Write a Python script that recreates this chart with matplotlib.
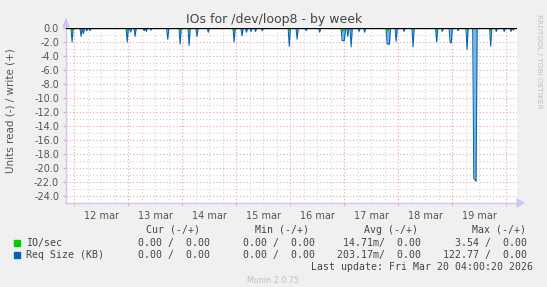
import numpy as np
import matplotlib
matplotlib.use("Agg")
import matplotlib.pyplot as plt
from matplotlib.patches import Polygon, Rectangle

W, H = 547, 287

# ---- data (hours since 12 mar 00:00) ----
title = "IOs for /dev/loop8 - by week"
ylabel = "Units read (-) / write (+)"
day_labels = ["12 mar", "13 mar", "14 mar", "15 mar", "16 mar", "17 mar", "18 mar", "19 mar"]
read_hours = [-1.0, 3.0, 4.0, 5.5, 7.0, 23.5, 25.0, 27.0, 31.0, 32.0, 34.0, 41.5,
              47.0, 51.0, 54.5, 59.5, 71.0, 74.5, 76.5, 78.5, 80.5, 83.5,
              95.5, 99.0, 103.0, 109.0, 119.0, 119.5, 120.0, 121.5, 123.0, 126.5, 129.0,
              139.0, 139.5, 140.0, 143.0, 146.5, 150.5, 161.0, 163.5, 167.0, 167.5,
              170.5, 174.5, 177.5, 178.0, 178.5, 185.0, 187.5, 191.0, 194.0, 195.0]
reqsize_read = [-2.0, -1.2, -0.8, -0.4, -0.4, -2.0, -0.6, -1.2, -0.4, -0.5, -0.3, -1.6,
                -2.3, -2.5, -1.2, -0.6, -2.0, -1.1, -0.6, -0.5, -0.5, -0.4,
                -2.6, -1.6, -0.4, -0.6, -1.8, -1.8, -1.8, -1.2, -2.7, -0.5, -0.6,
                -2.3, -2.3, -2.3, -1.9, -0.5, -2.7, -2.0, -0.5, -2.1, -2.1,
                -0.4, -3.1, -21.5, -21.7, -21.9, -2.6, -0.5, -0.5, -0.5, -0.3]
iosec_read = [-0.4, 0, 0, 0, 0, -0.4, 0, 0, 0, 0, 0, 0,
              -0.4, -0.3, 0, 0, -0.4, 0, 0, 0, 0, 0,
              -0.4, 0, 0, 0, -0.5, -0.3, 0, 0, 0, 0, 0,
              -0.5, -0.3, 0, 0, 0, -0.3, -0.4, 0, 0, 0,
              0, -0.3, 0, 0, 0, -0.4, 0, 0, 0, 0]

# legend table
legend_names = ["IO/sec", "Req Size (KB)"]
legend_colors = ["#00cc00", "#0066b3"]
cur_vals = ["0.00 /  0.00", "0.00 /  0.00"]
min_vals = ["0.00 /  0.00", "0.00 /  0.00"]
avg_vals = ["14.71m/  0.00", "203.17m/  0.00"]
max_vals = ["3.54 /  0.00", "122.77 /  0.00"]
last_update = "Last update: Fri Mar 20 04:00:20 2026"

# ---- build series on the 30-min grid ----
t = np.arange(-4.0, 197.5, 0.5)
req = np.zeros_like(t)
ios = np.zeros_like(t)
for h, r, g in zip(read_hours, reqsize_read, iosec_read):
    i = int(round((h - t[0]) / 0.5))
    req[i] = r
    ios[i] = g

fig = plt.figure(figsize=(W / 100, H / 100), dpi=100, facecolor="#f0f0f0")
L, R, T, B = 66, 517, 28, 203
ax = fig.add_axes([L / W, 1 - B / H, (R - L) / W, (B - T) / H])
ax.set_facecolor("white")
ax.set_xlim(-3.7, 196.7)
ax.set_ylim(-25, 0)

# grids
for yv in np.arange(-25, 0, 1.0):
    if yv % 2 == 0:
        ax.axhline(yv, color="#f0a0a0", lw=0.8, ls=(0, (1, 2)), zorder=1)
    else:
        ax.axhline(yv, color="#d4d4d4", lw=0.8, ls=(0, (1, 2)), zorder=1)
for xv in np.arange(-6, 198, 6):
    if xv % 24 == 0:
        ax.axvline(xv, color="#f0a0a0", lw=0.8, ls=(0, (1, 2)), zorder=1)
    else:
        ax.axvline(xv, color="#d4d4d4", lw=0.8, ls=(0, (1, 2)), zorder=1)

# series
ax.fill_between(t, req, 0, color="#80b4e0", lw=0, zorder=2)
ax.plot(t, req, color="#0066b3", lw=0.75, zorder=3)
ax.plot(t, ios, color="#00cc00", lw=0.9, zorder=4)
ax.axhline(0, color="black", lw=1.0, zorder=5)

# axes styling
for s in ["top", "right"]:
    ax.spines[s].set_visible(False)
for s in ["left", "bottom"]:
    ax.spines[s].set_color("#c8c8f0")
    ax.spines[s].set_linewidth(1.0)
ax.set_yticks(np.arange(-24, 1, 2))
ax.set_yticklabels([f"{v:.1f}" for v in np.arange(-24, 1, 2)])
ax.set_xticks([12 + 24 * k for k in range(len(day_labels))])
ax.set_xticklabels(day_labels)
ax.set_xticks(np.arange(0, 197, 24), minor=True)
ax.tick_params(axis="y", length=2, color="#f0a0a0", labelsize=7, labelcolor="#555555", pad=3)
ax.tick_params(axis="x", which="major", length=0, labelsize=7, labelcolor="#555555", pad=6)
ax.tick_params(axis="x", which="minor", length=2, color="#f0a0a0")

# arrows
fig.patches.append(Polygon([[(L - 3) / W, 1 - 27 / H], [(L + 3) / W, 1 - 27 / H], [L / W, 1 - 19 / H]],
                           closed=True, transform=fig.transFigure, color="#c8c8f5"))
fig.patches.append(Polygon([[R / W, 1 - (B - 4) / H], [R / W, 1 - (B + 4) / H], [(R + 7) / W, 1 - B / H]],
                           closed=True, transform=fig.transFigure, color="#c8c8f5"))

def fx(x):
    return x / W

def fy(y):
    return 1 - y / H

fig.text(fx(274), fy(19), title, ha="center", va="center", fontsize=9, color="#444444")
fig.text(fx(11), fy(111), ylabel, ha="center", va="center", rotation=90, fontsize=7.5, color="#555555")
fig.text(fx(539), fy(14), "RRDTOOL / TOBI OETIKER", ha="center", va="top", rotation=270,
         fontsize=5.3, color="#c0c0c0")

mono = "DejaVu Sans Mono"
fs = 7.15
lc = "#444444"
hy = 230
for txt, xr in [("Cur (-/+)", 200), ("Min (-/+)", 309), ("Avg (-/+)", 418), ("Max (-/+)", 526)]:
    fig.text(fx(xr), fy(hy), txt, ha="right", va="center", family=mono, fontsize=fs, color=lc)
rows_y = [243, 255]
for i in range(2):
    y = rows_y[i]
    fig.patches.append(Rectangle((fx(14), fy(y + 3)), 6 / W, 6 / H, transform=fig.transFigure,
                                 color=legend_colors[i]))
    fig.text(fx(26), fy(y), legend_names[i], ha="left", va="center", family=mono, fontsize=fs, color=lc)
    fig.text(fx(209.5), fy(y), cur_vals[i], ha="right", va="center", family=mono, fontsize=fs, color=lc)
    fig.text(fx(315), fy(y), min_vals[i], ha="right", va="center", family=mono, fontsize=fs, color=lc)
    fig.text(fx(421), fy(y), avg_vals[i], ha="right", va="center", family=mono, fontsize=fs, color=lc)
    fig.text(fx(527), fy(y), max_vals[i], ha="right", va="center", family=mono, fontsize=fs, color=lc)
fig.text(fx(533), fy(267), last_update, ha="right", va="center", family=mono, fontsize=fs, color=lc)
fig.text(fx(273), fy(280.5), "Munin 2.0.75", ha="center", va="center", fontsize=5.8, color="#c0c0c0")

fig.savefig("out.png", dpi=100, facecolor=fig.get_facecolor())
